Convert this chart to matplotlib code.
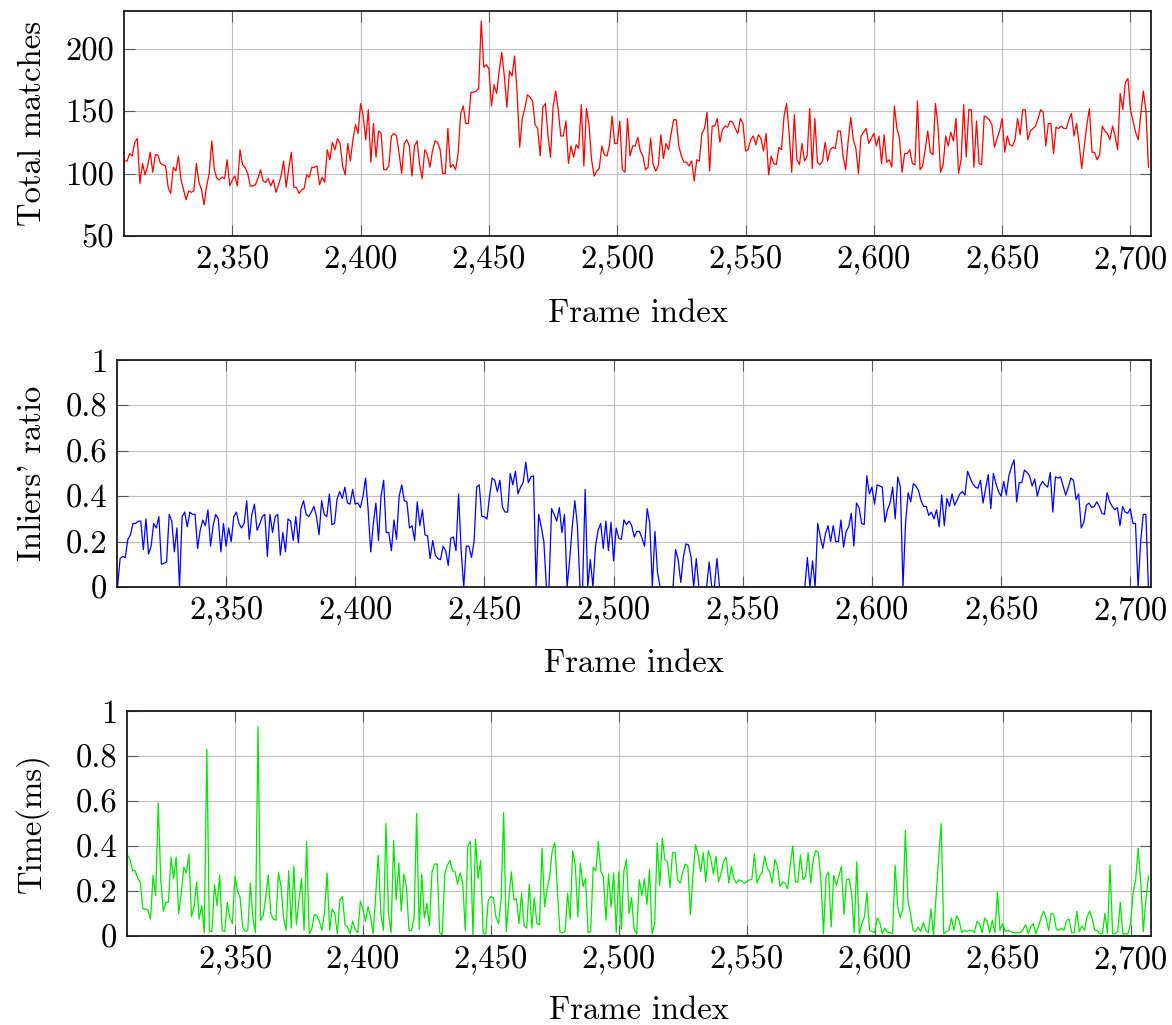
import matplotlib
matplotlib.use("Agg")
import matplotlib.pyplot as plt
import numpy as np
from matplotlib.ticker import FuncFormatter

# frame indices shared by the three panels
frames = np.arange(2308, 2708)

# total matches per frame (rows of 10 frames, starting at 2308)
total_matches = [
    110, 110, 116, 114, 125, 128, 92, 108, 99, 106,
    117, 101, 115, 115, 108, 107, 106, 89, 84, 105,
    102, 114, 95, 87, 79, 86, 85, 86, 108, 93,
    87, 75, 90, 100, 126, 103, 96, 95, 97, 96,
    111, 90, 95, 98, 90, 119, 107, 105, 100, 90,
    90, 91, 96, 103, 94, 93, 96, 90, 95, 85,
    91, 98, 110, 89, 104, 117, 89, 89, 84, 87,
    88, 99, 97, 105, 105, 106, 91, 97, 93, 119,
    111, 125, 119, 128, 124, 106, 99, 124, 110, 127,
    139, 132, 156, 146, 127, 151, 109, 140, 113, 134,
    132, 103, 103, 106, 130, 132, 130, 116, 100, 124,
    127, 122, 98, 122, 126, 107, 96, 119, 115, 105,
    118, 126, 125, 119, 100, 100, 136, 105, 107, 103,
    116, 148, 154, 140, 140, 165, 165, 166, 168, 222,
    185, 187, 184, 154, 171, 164, 182, 197, 178, 153,
    182, 178, 194, 164, 121, 144, 152, 163, 161, 158,
    139, 136, 114, 153, 156, 131, 113, 153, 166, 151,
    130, 130, 142, 108, 122, 113, 123, 120, 155, 106,
    152, 139, 111, 98, 102, 104, 122, 115, 114, 123,
    146, 124, 124, 142, 103, 101, 144, 114, 122, 122,
    129, 118, 114, 103, 105, 128, 107, 102, 106, 131,
    112, 124, 119, 132, 143, 143, 122, 114, 109, 109,
    106, 110, 94, 111, 110, 132, 136, 149, 102, 138,
    138, 144, 125, 135, 138, 137, 142, 141, 136, 132,
    144, 140, 118, 119, 127, 130, 123, 131, 128, 118,
    132, 99, 114, 108, 107, 121, 119, 146, 156, 132,
    101, 147, 111, 107, 124, 110, 114, 152, 104, 144,
    109, 107, 110, 125, 110, 119, 121, 120, 134, 134,
    114, 103, 126, 145, 127, 120, 100, 130, 133, 136,
    124, 128, 132, 122, 130, 108, 131, 109, 111, 105,
    154, 136, 128, 101, 116, 116, 119, 108, 107, 158,
    103, 106, 119, 134, 117, 115, 156, 138, 101, 107,
    130, 122, 133, 126, 144, 100, 111, 155, 113, 151,
    151, 105, 142, 108, 107, 146, 145, 143, 139, 121,
    128, 134, 144, 117, 130, 123, 122, 127, 144, 131,
    151, 151, 127, 134, 136, 138, 144, 151, 149, 122,
    140, 140, 116, 137, 136, 138, 136, 136, 143, 148,
    130, 140, 124, 104, 122, 139, 152, 117, 117, 111,
    115, 138, 134, 132, 127, 138, 130, 119, 164, 151,
    173, 176, 151, 142, 133, 127, 147, 166, 151, 105,
]

# inliers' ratio per frame
inliers_ratio = [
    0, .125, .135, .13, .21, .23, .28, .28, .29, .29,
    .165, .30, .145, .18, .28, .26, .31, .10, .105, .11,
    .32, .29, .155, .26, 0, .31, .33, .265, .33, .32,
    .32, .17, .25, .295, .27, .34, .18, .27, .32, .30,
    .155, .28, .18, .26, .20, .31, .33, .28, .26, .28,
    .38, .21, .32, .365, .25, .275, .31, .32, .135, .32,
    .24, .31, .32, .14, .24, .155, .30, .29, .205, .31,
    .195, .345, .38, .32, .31, .33, .355, .31, .23, .38,
    .32, .31, .41, .275, .28, .39, .42, .39, .44, .37,
    .365, .43, .365, .37, .35, .40, .48, .34, .155, .28,
    .37, .205, .40, .47, .24, .24, .16, .295, .21, .40,
    .45, .38, .375, .26, .27, .205, .375, .27, .34, .23,
    .225, .125, .205, .14, .125, .12, .18, .16, .095, .215,
    .22, .16, .41, .16, 0, .18, .18, .13, .2, .44,
    .45, .31, .31, .30, .40, .48, .47, .42, .47, .35,
    .33, .33, .50, .45, .51, .41, .44, .46, .55, .46,
    .485, .49, 0, .32, .265, .2, 0, 0, .345, .32,
    .29, .35, .24, .32, 0, .12, .265, .38, .27, 0,
    0, .43, 0, .12, 0, .18, .25, .28, .17, .29,
    .16, .285, .115, .26, .215, .21, .295, .275, .29, .27,
    .22, .245, .245, .215, .18, .345, .28, 0, .245, .065,
    0, 0, 0, 0, 0, 0, .165, .12, .02, .13,
    .19, .185, .13, 0, .125, 0, 0, 0, 0, .11,
    0, 0, .125, 0, 0, 0, 0, 0, 0, 0,
    0, 0, 0, 0, 0, 0, 0, 0, 0, 0,
    0, 0, 0, 0, 0, 0, 0, 0, 0, 0,
    0, 0, 0, 0, 0, 0, 0, .13, 0, .115,
    0, .28, .22, .17, .235, .27, .2, .27, .2, .2,
    .295, .175, .245, .265, .325, .18, .37, .35, .28, .275,
    .49, .41, .44, .365, .45, .445, .44, .285, .34, .37,
    .44, .30, .485, .44, 0, .28, .415, .375, .455, .445,
    .425, .38, .355, .355, .315, .33, .30, .34, .265, .405,
    .27, .39, .355, .41, .36, .385, .41, .42, .405, .51,
    .48, .455, .44, .435, .47, .37, .435, .495, .345, .50,
    .455, .42, .40, .465, .405, .49, .53, .56, .375, .46,
    .46, .515, .505, .49, .445, .475, .40, .445, .465, .45,
    .44, .505, .33, .485, .48, .485, .445, .405, .44, .48,
    .47, .385, .41, .26, .285, .36, .37, .35, .355, .375,
    .355, .325, .32, .415, .375, .355, .34, .35, .27, .355,
    .33, .325, .345, .28, .28, 0, .2, .32, .32, 0,
]

# time per frame (ms)
time_ms = [
    .36, .34, .29, .29, .255, .24, .12, .12, .115, .075,
    .27, .18, .59, .25, .11, .15, .15, .35, .255, .35,
    .10, .19, .305, .28, .365, .085, .13, .24, .075, .135,
    .015, .83, .02, .02, .23, .135, .27, .025, .02, .15,
    .08, .055, .265, .20, .17, .04, .02, .025, .235, .08,
    .015, .93, .07, .09, .17, .27, .10, .075, .07, .28,
    .22, .08, .025, .29, .035, .31, .05, .16, .255, .025,
    .42, .01, .03, .095, .09, .065, .025, .11, .28, .025,
    .12, .10, .01, .16, .175, .05, .04, .01, .065, .03,
    .015, .155, .12, .065, .13, .085, .01, .18, .36, .10,
    .025, .50, .10, .015, .425, .16, .325, .11, .275, .22,
    .025, .025, .08, .545, .03, .275, .08, .145, .045, .285,
    .32, .32, .015, .005, .275, .315, .335, .29, .285, .23,
    .28, .235, .025, .40, .42, .005, .43, .255, .335, .01,
    .01, .16, .175, .17, .085, .055, .16, .55, .02, .16,
    .285, .16, .165, .055, .19, .045, .035, .23, .035, .17,
    .055, .05, .39, .13, .21, .265, .38, .415, .205, .015,
    .015, .02, .19, .075, .38, .315, .085, .325, .22, .255,
    .015, .02, .305, .29, .42, .29, .26, .07, .275, .13,
    .28, .015, .285, .03, .29, .34, .10, .17, .03, .01,
    .25, .18, .255, .14, .295, .01, .05, .415, .225, .435,
    .34, .33, .215, .37, .37, .25, .235, .285, .32, .31,
    .095, .27, .405, .36, .285, .37, .24, .38, .34, .275,
    .355, .24, .28, .335, .35, .235, .31, .255, .235, .25,
    .245, .235, .24, .25, .25, .365, .235, .265, .28, .355,
    .30, .285, .235, .34, .31, .22, .24, .235, .21, .315,
    .40, .24, .24, .36, .25, .265, .37, .235, .34, .38,
    .37, .25, .01, .265, .285, .04, .27, .225, .265, .31,
    .095, .25, .255, .19, .015, .33, .01, .055, .085, .195,
    .025, .02, .015, .08, .06, .01, .035, .015, .015, .01,
    .315, .13, .08, .12, .47, .16, .10, .025, .02, .04,
    .02, .06, .025, .015, .12, .005, .175, .345, .50, .01,
    .02, .025, .08, .025, .09, .07, .015, .025, .02, .025,
    .025, .015, .065, .055, .015, .08, .065, .015, .07, .015,
    .195, .025, .055, .02, .025, .02, .015, .015, .015, .015,
    .03, .05, .01, .04, .055, .01, .04, .08, .11, .08,
    .025, .10, .095, .03, .025, .035, .025, .07, .075, .015,
    .015, .11, .02, .045, .025, .085, .11, .08, .025, .025,
    .01, .01, .10, .01, .315, .01, .01, .02, .15, .01,
    .01, .01, .055, .19, .25, .39, .24, .02, .16, .265,
]

x_ticks = list(range(2350, 2701, 50))

plt.rcParams['font.family'] = ['cmr10', 'DejaVu Serif']
plt.rcParams['mathtext.fontset'] = 'cm'
plt.rcParams['axes.formatter.use_mathtext'] = True

W, H = 1172, 1025
fig = plt.figure(figsize=(W / 100, H / 100), dpi=100)


def add_px_axes(left, top, right, bottom):
    return fig.add_axes([left / W, 1 - bottom / H, (right - left) / W, (bottom - top) / H])


panels = [
    # (box in px, values, colour, ylim, yticks, ylabel, xlabel y px)
    ((124, 11, 1151, 236), total_matches, (1, 0, 0), (50, 230), [50, 100, 150, 200], "Total matches", 313),
    ((117, 360, 1151, 587), inliers_ratio, (0, 0, 1), (0, 1), [0, 0.2, 0.4, 0.6, 0.8, 1], "Inliers' ratio", 663),
    ((127, 711, 1151, 936), time_ms, (0, 0.9, 0), (0, 1), [0, 0.2, 0.4, 0.6, 0.8, 1], "Time(ms)", 1010),
]

fs = 23.5

for box, vals, col, ylim, yticks, ylabel, xlab_y in panels:
    ax = add_px_axes(*box)
    ax.plot(frames, vals, color=col, lw=0.9, zorder=2)
    ax.set_xlim(2307.8, 2708)
    ax.set_ylim(*ylim)
    ax.set_xticks(x_ticks)
    ax.set_yticks(yticks)
    ax.xaxis.set_major_formatter(FuncFormatter(lambda v, p: f"{int(round(v)):,}"))
    ax.yaxis.set_major_formatter(FuncFormatter(lambda v, p: f"{v:g}"))
    ax.grid(True, color="0.75", lw=0.8)
    ax.set_axisbelow(True)
    ax.tick_params(direction="in", length=8, width=0.8, color="0.35",
                   top=True, right=True, labelsize=fs, pad=7)
    for s in ax.spines.values():
        s.set_linewidth(1.3)
        s.set_color("0.1")
        s.set_zorder(3)
    left, top, right, bottom = box
    fig.text(((left + right) / 2) / W, 1 - xlab_y / H, "Frame index",
             ha="center", va="center", fontsize=fs)
    fig.text(32 / W, 1 - ((top + bottom) / 2) / H, ylabel,
             ha="center", va="center", rotation=90, fontsize=fs)

fig.savefig("out.png", dpi=100)
